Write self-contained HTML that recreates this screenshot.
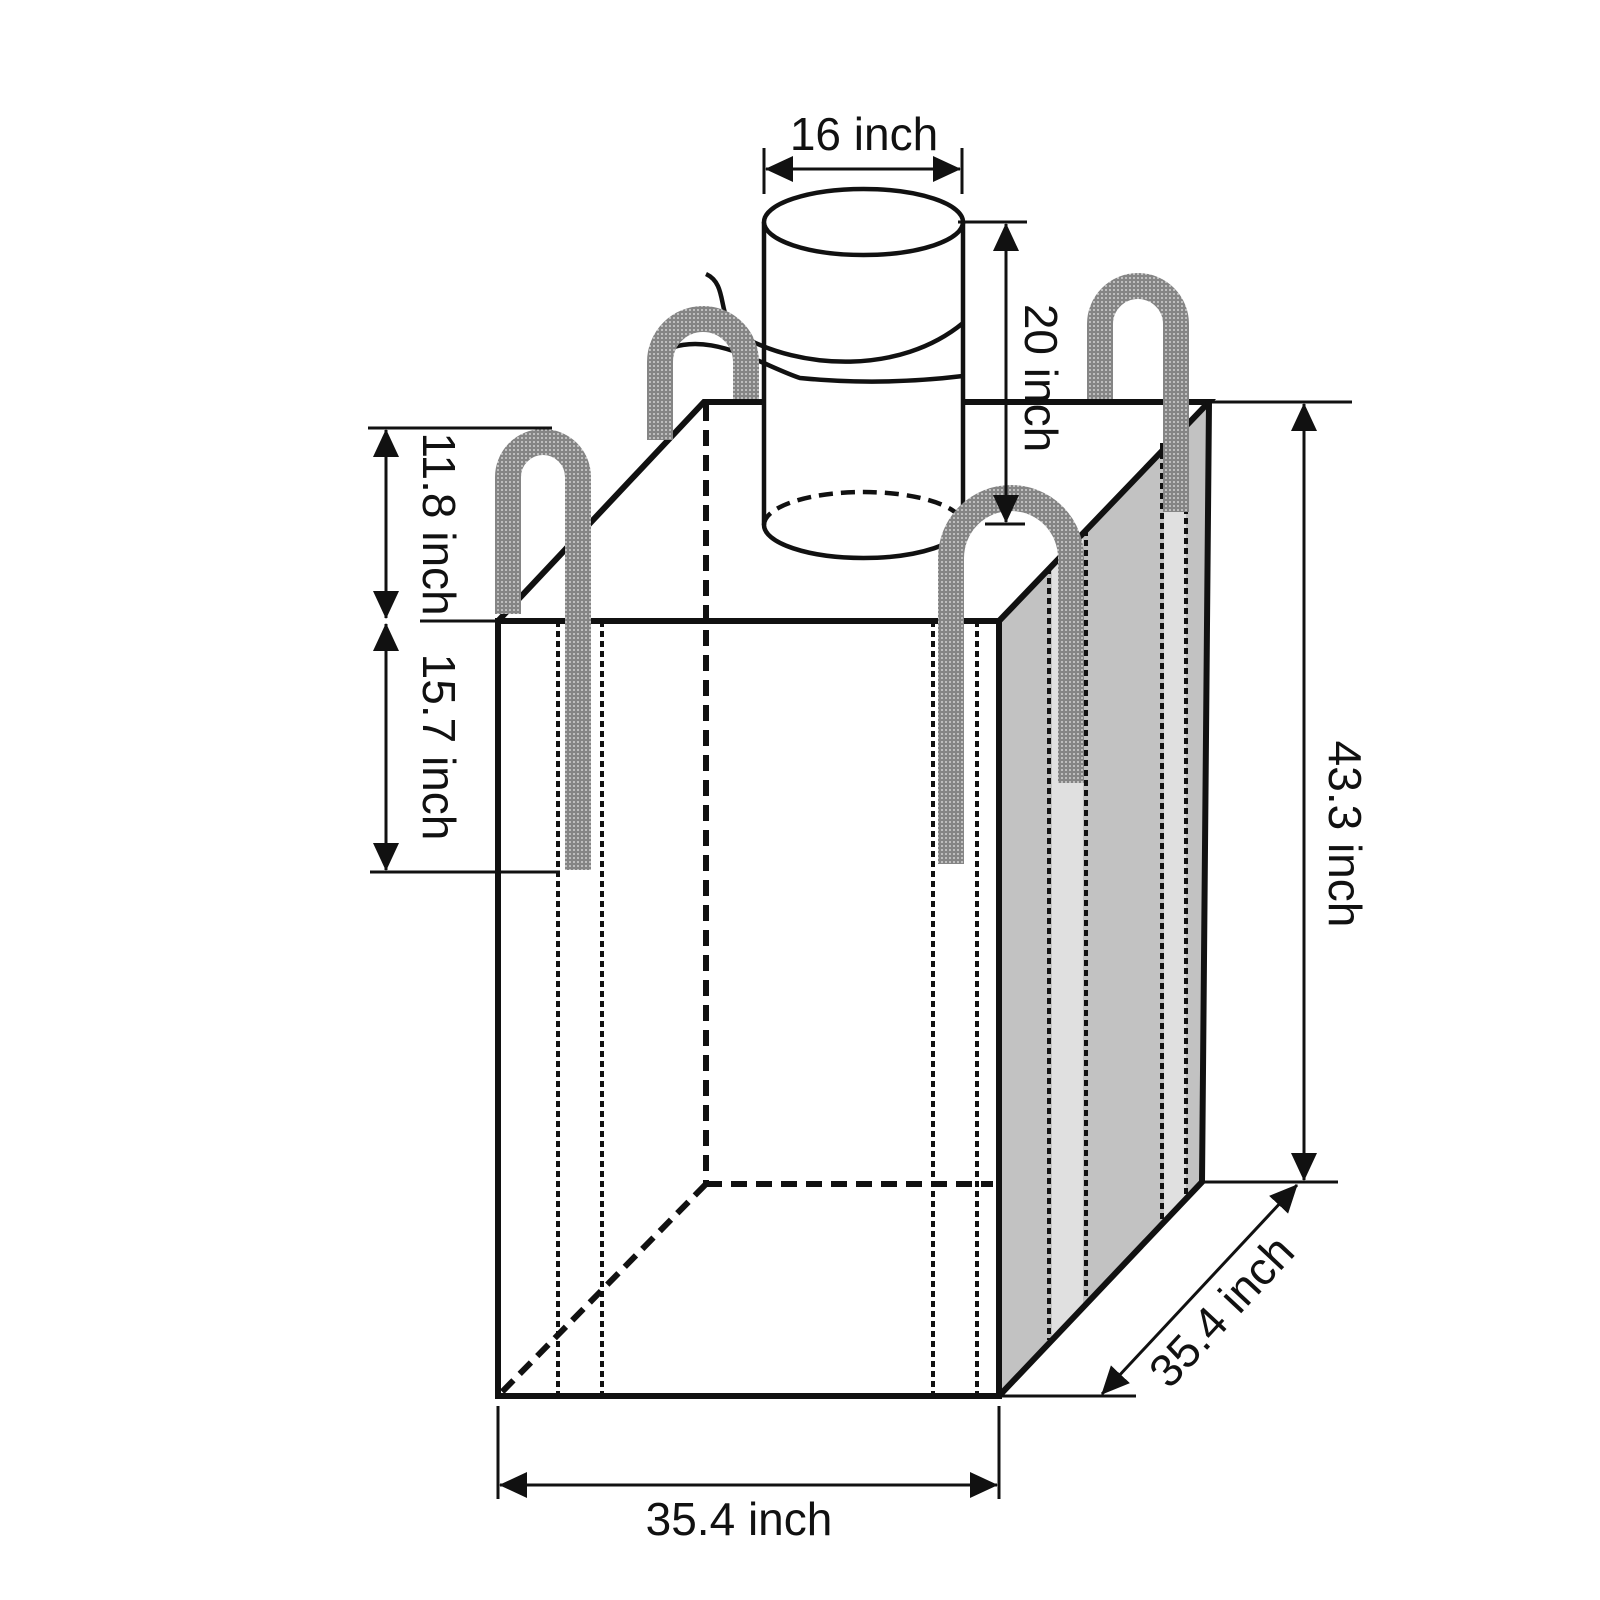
<!DOCTYPE html>
<html><head><meta charset="utf-8"><style>html,body{margin:0;padding:0;background:#fff}svg{display:block}text{font-family:"Liberation Sans",sans-serif;font-size:46px;fill:#111}</style></head><body>
<svg width="1600" height="1600" viewBox="0 0 1600 1600" xmlns="http://www.w3.org/2000/svg">
<defs>
<marker id="a" viewBox="0 0 28 26" refX="27" refY="13" markerWidth="28" markerHeight="26" markerUnits="userSpaceOnUse" orient="auto-start-reverse"><path d="M0,0 L28,13 L0,26 Z" fill="#111"/></marker>
<pattern id="dots" width="4" height="4" patternUnits="userSpaceOnUse"><rect width="4" height="4" fill="#858585"/><circle cx="2" cy="2" r="1" fill="#d0d0d0"/></pattern>
</defs>
<polygon points="999,621 1209,402 1202,1182 999,1396" fill="#c2c2c2"/>
<polygon points="1052,566 1083,534 1083,1304 1052,1336" fill="#e0e0e0"/>
<polygon points="1164,441 1186,418 1186,1197 1164,1221" fill="#e0e0e0"/>
<g stroke="#111" stroke-width="4" stroke-dasharray="6,4" fill="none">
<line x1="1049" y1="568" x2="1049" y2="1340"/><line x1="1086" y1="530" x2="1086" y2="1300"/>
<line x1="1162" y1="443" x2="1162" y2="1222"/><line x1="1186" y1="418" x2="1186" y2="1198"/>
<line x1="558" y1="621" x2="558" y2="1394"/><line x1="602" y1="621" x2="602" y2="1394"/>
<line x1="933" y1="621" x2="933" y2="1394"/><line x1="977" y1="621" x2="977" y2="1394"/>
</g>
<g stroke="#111" stroke-width="6" stroke-dasharray="16,9" fill="none">
<line x1="706" y1="405" x2="706" y2="1184"/><line x1="706" y1="1184" x2="993" y2="1184"/><line x1="706" y1="1184" x2="500" y2="1394"/>
</g>
<g stroke="#111" stroke-width="6" fill="none" stroke-linejoin="miter">
<rect x="498" y="621" width="501" height="775"/>
<polyline points="498,621 704,402 1209,402 999,621"/>
<polyline points="1209,402 1202,1182 999,1396"/>
</g>
<rect x="764" y="222" width="199" height="303" fill="#fff"/>
<g stroke="#111" stroke-width="4.5" fill="none">
<line x1="764" y1="222" x2="764" y2="525"/><line x1="963" y1="222" x2="963" y2="525"/>
<ellipse cx="863.5" cy="222" rx="99.5" ry="33" fill="#fff"/>
<path d="M764,525 A99.5,33 0 0 0 963,525"/>
<path d="M764,525 A99.5,33 0 0 1 963,525" stroke-dasharray="14,8"/>
<path d="M706,274 C730,285 715,320 740,335 C800,370 900,375 963,323"/>
<path d="M652,358 C700,322 760,365 800,378 C870,385 930,380 963,376"/>
</g>
<g stroke="url(#dots)" stroke-width="26" fill="none">
<path d="M508,614 L508,477 A35,35 0 0 1 578,477 L578,870"/>
<path d="M660,440 L660,362 A43,43 0 0 1 746,362 L746,399"/>
<path d="M951,864 L951,558 A60,60 0 0 1 1071,558 L1071,783"/>
<path d="M1100,399 L1100,324 A38,38 0 0 1 1176,324 L1176,512"/>
</g>
<g stroke="#111" stroke-width="3" fill="none">
<line x1="764" y1="148" x2="764" y2="194"/><line x1="962" y1="148" x2="962" y2="194"/>
<line x1="766" y1="169" x2="960" y2="169" marker-start="url(#a)" marker-end="url(#a)"/>
<line x1="958" y1="222" x2="1027" y2="222"/><line x1="985" y1="524" x2="1025" y2="524"/>
<line x1="1006" y1="224" x2="1006" y2="522" marker-start="url(#a)" marker-end="url(#a)"/>
<line x1="1209" y1="402" x2="1352" y2="402"/><line x1="1202" y1="1182" x2="1338" y2="1182"/>
<line x1="1304" y1="404" x2="1304" y2="1180" marker-start="url(#a)" marker-end="url(#a)"/>
<line x1="999" y1="1396" x2="1136" y2="1396"/>
<line x1="1297" y1="1185" x2="1102" y2="1394" marker-start="url(#a)" marker-end="url(#a)"/>
<line x1="498" y1="1406" x2="498" y2="1499"/><line x1="999" y1="1406" x2="999" y2="1499"/>
<line x1="500" y1="1485" x2="997" y2="1485" marker-start="url(#a)" marker-end="url(#a)"/>
<line x1="368" y1="428" x2="552" y2="428"/><line x1="420" y1="621" x2="498" y2="621"/><line x1="370" y1="872" x2="560" y2="872"/>
<line x1="386" y1="430" x2="386" y2="618" marker-start="url(#a)" marker-end="url(#a)"/>
<line x1="386" y1="624" x2="386" y2="870" marker-start="url(#a)" marker-end="url(#a)"/>
</g>
<text x="864" y="150" text-anchor="middle">16 inch</text>
<text transform="translate(1025,378) rotate(90)" text-anchor="middle">20 inch</text>
<text transform="translate(1329,834) rotate(90)" text-anchor="middle">43.3 inch</text>
<text transform="translate(1233,1322) rotate(-47)" text-anchor="middle">35.4 inch</text>
<text x="739" y="1535" text-anchor="middle">35.4 inch</text>
<text transform="translate(423,524) rotate(90)" text-anchor="middle">11.8 inch</text>
<text transform="translate(423,747) rotate(90)" text-anchor="middle">15.7 inch</text>
</svg>
</body></html>
